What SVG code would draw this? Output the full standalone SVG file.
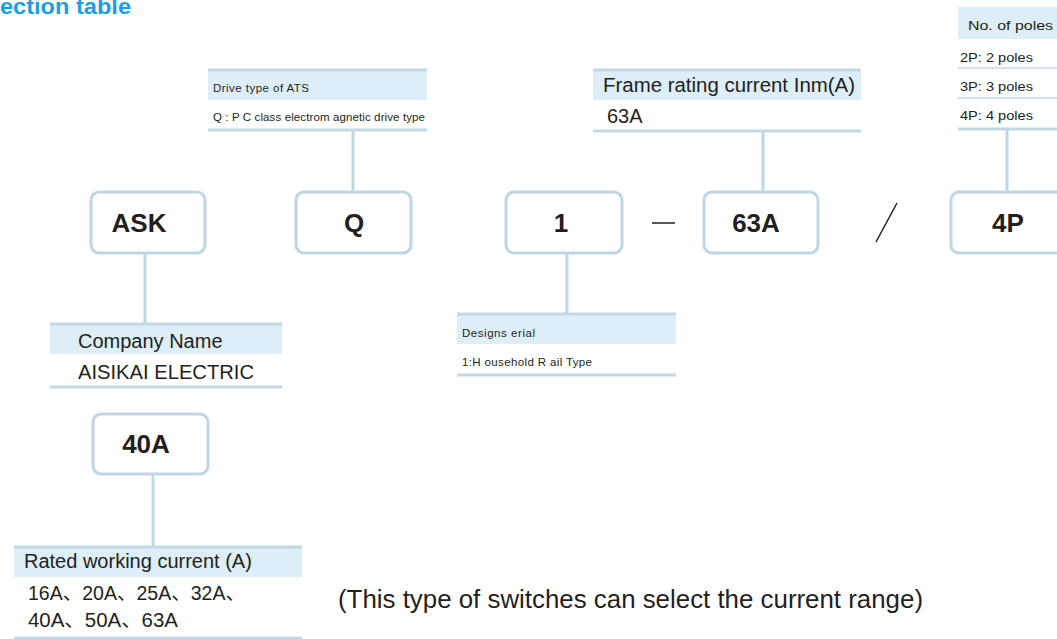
<svg xmlns="http://www.w3.org/2000/svg" width="1057" height="639" viewBox="0 0 1057 639">
<style>
  .box{fill:#fff;stroke:#bfd6e4;stroke-width:3}
  .hdr{fill:#ddeef9}
  .rule{stroke:#c3d8e5;stroke-width:3;fill:none}
  .thin{stroke:#c3d8e5;stroke-width:1.5;fill:none}
  .conn{stroke:#bfd6e4;stroke-width:3;fill:none}
  .code{font-family:"Liberation Sans",Arial,sans-serif;font-weight:bold;font-size:26px;fill:#231f20;text-anchor:middle}
  .t20{font-family:"Liberation Sans",Arial,"Noto Sans CJK SC",sans-serif;font-size:20px;fill:#231f20}
  .t11{font-family:"Liberation Sans",Arial,sans-serif;font-size:11.5px;fill:#231f20}
  .t13{font-family:"Liberation Sans",Arial,sans-serif;font-size:13px;fill:#231f20}
</style>
<rect width="1057" height="639" fill="#fff"/>
<text x="0" y="14" font-family="Liberation Sans,Arial,sans-serif" font-weight="bold" font-size="22" fill="#1aa0e0" textLength="131" lengthAdjust="spacingAndGlyphs">ection table</text>

<g id="connectors">
  <line class="conn" x1="145" y1="253" x2="145" y2="324"/>
  <line class="conn" x1="353" y1="130" x2="353" y2="192"/>
  <line class="conn" x1="567" y1="253" x2="567" y2="314"/>
  <line class="conn" x1="763" y1="131" x2="763" y2="192"/>
  <line class="conn" x1="1007" y1="129" x2="1007" y2="192"/>
  <line class="conn" x1="153" y1="474" x2="153" y2="547"/>
</g>

<g id="node-ask">
  <rect class="box" x="91" y="192" width="114" height="61" rx="8"/>
  <text class="code" x="139" y="232">ASK</text>
</g>
<g id="node-q">
  <rect class="box" x="296" y="192" width="115" height="61" rx="8"/>
  <text class="code" x="354" y="232">Q</text>
</g>
<g id="node-1">
  <rect class="box" x="506" y="192" width="116" height="61" rx="8"/>
  <text class="code" x="561" y="232">1</text>
</g>
<g id="sep-dash">
  <line x1="652" y1="223" x2="675" y2="223" stroke="#231f20" stroke-width="1.5"/>
</g>
<g id="node-63a">
  <rect class="box" x="704" y="192" width="114" height="61" rx="8"/>
  <text class="code" x="756" y="232">63A</text>
</g>
<g id="sep-slash">
  <line x1="876" y1="242" x2="897" y2="203" stroke="#231f20" stroke-width="1.5"/>
</g>
<g id="node-4p">
  <rect class="box" x="951" y="192" width="120" height="61" rx="8"/>
  <text class="code" x="1008" y="232">4P</text>
</g>
<g id="node-40a">
  <rect class="box" x="93" y="414" width="115" height="60" rx="8"/>
  <text class="code" x="146" y="453">40A</text>
</g>

<g id="table-drive">
  <rect class="hdr" x="208" y="70" width="219" height="30"/>
  <line class="rule" x1="208" y1="70" x2="427" y2="70"/>
  <line class="rule" x1="208" y1="130" x2="427" y2="130"/>
  <text class="t11" x="213" y="92" textLength="96">Drive type of ATS</text>
  <text class="t11" x="213" y="121" textLength="212">Q : P C class electrom agnetic drive type</text>
</g>

<g id="table-frame">
  <rect class="hdr" x="593" y="70" width="268" height="30"/>
  <line class="rule" x1="593" y1="70" x2="861" y2="70"/>
  <line class="rule" x1="593" y1="131" x2="861" y2="131"/>
  <text class="t20" x="603" y="92" textLength="252" lengthAdjust="spacingAndGlyphs">Frame rating current Inm(A)</text>
  <text class="t20" x="607" y="123">63A</text>
</g>

<g id="table-poles">
  <rect class="hdr" x="958" y="7" width="99" height="32"/>
  <line class="thin" x1="958" y1="68" x2="1057" y2="68"/>
  <line class="thin" x1="958" y1="98" x2="1057" y2="98"/>
  <line class="rule" x1="958" y1="129" x2="1057" y2="129"/>
  <text class="t13" x="968" y="30" font-size="14" textLength="85" lengthAdjust="spacingAndGlyphs">No. of poles</text>
  <text class="t13" x="960" y="62" textLength="73" lengthAdjust="spacingAndGlyphs">2P: 2 poles</text>
  <text class="t13" x="960" y="91" textLength="73" lengthAdjust="spacingAndGlyphs">3P: 3 poles</text>
  <text class="t13" x="960" y="120" textLength="73" lengthAdjust="spacingAndGlyphs">4P: 4 poles</text>
</g>

<g id="table-design">
  <rect class="hdr" x="457" y="314" width="219" height="30"/>
  <line class="rule" x1="457" y1="314" x2="676" y2="314"/>
  <line class="rule" x1="457" y1="375" x2="676" y2="375"/>
  <text class="t11" x="462" y="337" textLength="73">Designs erial</text>
  <text class="t11" x="462" y="366" textLength="130">1:H ousehold R ail Type</text>
</g>

<g id="table-company">
  <rect class="hdr" x="50" y="324" width="232" height="30"/>
  <line class="rule" x1="50" y1="324" x2="282" y2="324"/>
  <line class="rule" x1="50" y1="387" x2="282" y2="387"/>
  <text class="t20" x="78" y="348">Company Name</text>
  <text class="t20" x="78" y="379" textLength="176" lengthAdjust="spacingAndGlyphs">AISIKAI ELECTRIC</text>
</g>

<g id="table-rated">
  <rect class="hdr" x="14" y="547" width="288" height="30"/>
  <line class="rule" x1="14" y1="547" x2="302" y2="547"/>
  <line class="rule" x1="14" y1="638" x2="302" y2="638"/>
  <text class="t20" x="24" y="568">Rated working current (A)</text>
  <text class="t20" x="28" y="600" textLength="217" lengthAdjust="spacingAndGlyphs">16A、20A、25A、32A、</text>
  <text class="t20" x="28" y="627" textLength="150" lengthAdjust="spacingAndGlyphs">40A、50A、63A</text>
</g>

<text x="338" y="608" font-family="Liberation Sans,Arial,sans-serif" font-size="26" fill="#231f20" textLength="585" lengthAdjust="spacingAndGlyphs">(This type of switches can select the current range)</text>
</svg>
